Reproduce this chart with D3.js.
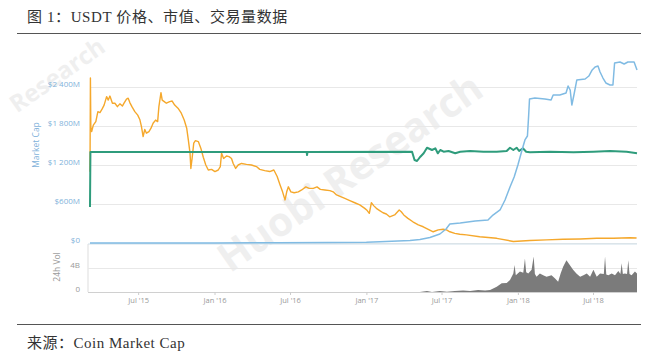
<!DOCTYPE html>
<html><head><meta charset="utf-8">
<script src="https://cdn.jsdelivr.net/npm/d3@7"></script>
<style>
html,body{margin:0;padding:0;background:#fff;}
svg{display:block;}
</style></head>
<body>
<svg id="c" width="650" height="358"></svg>
<script>
// ---- data ----
const titleText = "图 1：USDT 价格、市值、交易量数据";
const sourceText = "来源：Coin Market Cap";
const capTicks = [0, 600, 1200, 1800, 2400];           // Market Cap, $M
const capTickLabels = ["$0", "$600M", "$1 200M", "$1 800M", "$2 400M"];
const volTicks = [0, 4];                                // 24h Vol, $B
const volTickLabels = ["0", "4B"];
const dateTicks = ["2015-07-01","2016-01-01","2016-07-01","2017-01-01","2017-07-01","2018-01-01","2018-07-01"];

// Market cap ($M)
const marketCap = [["2015-03-07",0.3],["2015-09-01",0.5],["2016-01-01",1.5],["2016-06-01",5],["2016-10-01",6],["2017-01-01",10],["2017-02-02",20],["2017-04-16",40],["2017-05-10",54],["2017-06-03",85],["2017-06-27",138],["2017-07-12",215],["2017-07-21",292],["2017-08-15",308],["2017-09-20",338],["2017-10-21",354],["2017-11-02",430],["2017-11-19",508],["2017-12-01",662],["2017-12-13",862],["2017-12-23",1015],["2018-01-01",1200],["2018-01-11",1431],["2018-01-18",1585],["2018-01-24",1646],["2018-01-27",1970],["2018-01-29",2215],["2018-02-11",2230],["2018-03-07",2215],["2018-03-22",2200],["2018-03-27",2277],["2018-04-12",2277],["2018-04-27",2308],["2018-05-02",2415],["2018-05-07",2354],["2018-05-11",2123],["2018-05-16",2277],["2018-05-23",2508],["2018-06-12",2523],["2018-06-21",2569],["2018-06-29",2662],["2018-07-06",2708],["2018-07-13",2723],["2018-07-18",2631],["2018-07-25",2538],["2018-08-01",2462],["2018-08-11",2431],["2018-08-18",2431],["2018-08-22",2769],["2018-09-04",2785],["2018-09-14",2754],["2018-09-23",2785],["2018-10-08",2785],["2018-10-15",2662]];

// Price in USD
const priceUsd = [["2015-03-07",0.396],["2015-03-08",1.0],["2016-08-10",1.0],["2016-08-11",0.967],["2016-08-12",1.0],["2017-04-21",1.003],["2017-04-27",0.912],["2017-05-03",0.901],["2017-05-11",0.948],["2017-05-19",0.986],["2017-05-27",1.047],["2017-06-03",1.033],["2017-06-08",1.022],["2017-06-16",1.041],["2017-06-22",0.986],["2017-06-28",1.022],["2017-07-06",1.003],["2017-07-18",1.011],["2017-08-03",0.986],["2017-08-15",1.003],["2017-09-08",1.011],["2017-10-10",1.003],["2017-11-11",1.003],["2017-12-05",1.011],["2017-12-13",1.047],["2017-12-21",1.022],["2017-12-29",1.047],["2018-01-04",1.011],["2018-01-13",1.041],["2018-01-21",1.003],["2018-01-30",0.997],["2018-03-19",1.003],["2018-05-15",0.997],["2018-07-02",1.003],["2018-08-11",1.011],["2018-09-20",1.003],["2018-10-15",0.986]];

// Price in BTC
const priceBtc = [["2015-03-07",0.00228],["2015-03-08",0.00529],["2015-03-09",0.00372],["2015-03-11",0.00357],["2015-03-15",0.00378],["2015-03-21",0.00389],["2015-03-26",0.00421],["2015-03-31",0.00418],["2015-04-05",0.00429],["2015-04-10",0.00442],["2015-04-16",0.00469],["2015-04-20",0.00458],["2015-04-24",0.00471],["2015-04-30",0.00448],["2015-05-06",0.00448],["2015-05-12",0.00437],["2015-05-18",0.00446],["2015-05-24",0.00439],["2015-05-28",0.00448],["2015-06-03",0.00461],["2015-06-07",0.00464],["2015-06-11",0.00450],["2015-06-16",0.00437],["2015-06-23",0.00421],["2015-06-30",0.00410],["2015-07-05",0.00396],["2015-07-09",0.00373],["2015-07-13",0.00341],["2015-07-17",0.00364],["2015-07-21",0.00352],["2015-07-27",0.00357],["2015-08-01",0.00368],["2015-08-06",0.00384],["2015-08-12",0.00394],["2015-08-17",0.00389],["2015-08-20",0.00437],["2015-08-25",0.00482],["2015-08-28",0.00458],["2015-09-02",0.00453],["2015-09-07",0.00448],["2015-09-15",0.00453],["2015-09-21",0.00455],["2015-09-27",0.00442],["2015-10-05",0.00432],["2015-10-13",0.00416],["2015-10-20",0.00394],["2015-10-26",0.00368],["2015-10-30",0.00330],["2015-11-03",0.00288],["2015-11-05",0.00239],["2015-11-08",0.00271],["2015-11-12",0.00320],["2015-11-16",0.00328],["2015-11-23",0.00325],["2015-11-29",0.00304],["2015-12-05",0.00275],["2015-12-11",0.00250],["2015-12-17",0.00234],["2015-12-25",0.00236],["2016-01-02",0.00229],["2016-01-10",0.00234],["2016-01-15",0.00245],["2016-01-18",0.00288],["2016-01-23",0.00271],["2016-01-30",0.00279],["2016-02-05",0.00277],["2016-02-11",0.00271],["2016-02-15",0.00255],["2016-02-21",0.00239],["2016-02-27",0.00250],["2016-03-06",0.00255],["2016-03-18",0.00252],["2016-03-30",0.00250],["2016-04-11",0.00245],["2016-04-19",0.00236],["2016-05-01",0.00232],["2016-05-13",0.00229],["2016-05-23",0.00234],["2016-05-31",0.00213],["2016-06-07",0.00186],["2016-06-13",0.00164],["2016-06-19",0.00138],["2016-06-23",0.00164],["2016-06-27",0.00180],["2016-07-03",0.00164],["2016-07-11",0.00161],["2016-07-21",0.00164],["2016-07-29",0.00170],["2016-08-08",0.00180],["2016-08-16",0.00175],["2016-08-26",0.00175],["2016-09-04",0.00180],["2016-09-12",0.00172],["2016-09-23",0.00170],["2016-10-05",0.00168],["2016-10-13",0.00164],["2016-10-21",0.00154],["2016-11-10",0.00143],["2016-11-22",0.00136],["2016-12-04",0.00129],["2016-12-16",0.00122],["2016-12-28",0.00111],["2017-01-03",0.00104],["2017-01-08",0.00095],["2017-01-13",0.00129],["2017-01-19",0.00119],["2017-01-25",0.00111],["2017-02-02",0.00104],["2017-02-10",0.00097],["2017-02-18",0.00093],["2017-02-26",0.00084],["2017-03-10",0.00090],["2017-03-21",0.00106],["2017-03-26",0.00100],["2017-04-01",0.00090],["2017-04-11",0.00079],["2017-04-23",0.00068],["2017-05-06",0.00058],["2017-05-18",0.00052],["2017-05-30",0.00044],["2017-06-11",0.00036],["2017-06-23",0.00042],["2017-07-05",0.00044],["2017-07-13",0.00042],["2017-07-21",0.00036],["2017-08-02",0.00031],["2017-08-14",0.00028],["2017-08-30",0.00026],["2017-10-01",0.00020],["2017-11-11",0.00015],["2017-12-21",0.00005],["2018-01-30",0.00008],["2018-03-11",0.00010],["2018-04-20",0.00012],["2018-05-31",0.00013],["2018-07-10",0.00015],["2018-08-19",0.00015],["2018-09-28",0.00017],["2018-10-14",0.00016]];

// 24h volume ($B)
const volume24h = [["2015-03-07",0],["2017-05-10",0],["2017-05-27",0.17],["2017-06-08",0],["2017-06-27",0.17],["2017-07-14",0.05],["2017-08-02",0.17],["2017-08-22",0.25],["2017-09-08",0.17],["2017-09-27",0.33],["2017-10-14",0.25],["2017-10-26",0.33],["2017-11-11",0.88],["2017-11-23",1.45],["2017-12-05",1.5],["2017-12-13",2.0],["2017-12-21",3.1],["2017-12-24",4.5],["2017-12-27",2.8],["2018-01-06",3.4],["2018-01-14",3.2],["2018-01-18",5.6],["2018-01-21",3.3],["2018-01-26",3.1],["2018-02-03",3.7],["2018-02-08",5.9],["2018-02-11",3.0],["2018-02-15",2.55],["2018-02-23",3.1],["2018-03-03",2.8],["2018-03-11",2.55],["2018-03-23",2.8],["2018-03-31",2.3],["2018-04-08",1.7],["2018-04-14",3.1],["2018-04-20",4.2],["2018-04-28",5.3],["2018-05-06",4.5],["2018-05-14",3.7],["2018-05-22",3.1],["2018-05-31",2.55],["2018-06-08",2.8],["2018-06-16",3.1],["2018-06-24",2.55],["2018-07-02",3.7],["2018-07-10",2.55],["2018-07-18",3.1],["2018-07-27",3.0],["2018-07-30",5.9],["2018-08-02",2.9],["2018-08-07",2.8],["2018-08-15",3.1],["2018-08-23",2.8],["2018-08-31",3.5],["2018-09-05",3.0],["2018-09-08",4.8],["2018-09-11",3.0],["2018-09-16",3.1],["2018-09-21",3.0],["2018-09-24",5.3],["2018-09-27",3.0],["2018-10-02",2.8],["2018-10-10",3.4],["2018-10-15",3.1]];

// ---- drawing ----
const parse = d3.timeParse("%Y-%m-%d");
const svg = d3.select("#c");
const L = 90, R = 637, mainTop = 87, mainBot = 243, volTop = 244, volBot = 292;

const x = d3.scaleTime().domain([parse("2015-03-07"), parse("2018-10-15")]).range([L, R]);
const yCap = d3.scaleLinear().domain([0, 2400]).range([mainBot, mainTop]);
const yBtc = d3.scaleLinear().domain([0, 0.005]).range([mainBot, mainTop]);
const yUsd = d3.scaleLinear().domain([0, 1]).range([mainBot, 152]);
const yVol = d3.scaleLinear().domain([0, 4]).range([volBot, 268]);

const serif = "'Liberation Serif','Noto Sans CJK SC',serif";
const sans = "'Open Sans','Noto Sans',sans-serif";

// watermark
const wm = svg.append("g").attr("fill", "#efefef").style("font-family", sans).style("font-weight", "bold");
wm.append("text").attr("transform", "translate(358,184) rotate(-35)").attr("text-anchor", "middle")
  .style("font-size", "40px").text("Huobi Research");
wm.append("text").attr("transform", "translate(62,82) rotate(-35)").attr("text-anchor", "middle")
  .style("font-size", "24px").text("Research");

// title and rules
svg.append("text").attr("x", 27).attr("y", 22).style("font-family", serif).style("font-size", "15px")
  .style("letter-spacing", "0.6px").attr("fill", "#333").text(titleText);
svg.append("line").attr("x1", 17).attr("x2", 641).attr("y1", 33.5).attr("y2", 33.5).attr("stroke", "#555").attr("stroke-width", 1.2);
svg.append("line").attr("x1", 17).attr("x2", 641).attr("y1", 324.5).attr("y2", 324.5).attr("stroke", "#555").attr("stroke-width", 1.2);
svg.append("text").attr("x", 27).attr("y", 348).style("font-family", serif).style("font-size", "15px")
  .style("letter-spacing", "0.5px").attr("fill", "#333").text(sourceText);

// main gridlines + labels
const capAxis = d3.axisLeft(yCap).tickValues(capTicks).tickSize(-(R - L))
  .tickFormat((d, i) => capTickLabels[i]);
const gCap = svg.append("g").attr("transform", `translate(${L},0)`).call(capAxis);
gCap.select(".domain").remove();
gCap.selectAll("line").attr("stroke", "#e8e8e8");
gCap.selectAll("text").attr("x", -10).attr("dy", "-0.05em").attr("fill", "#7fb2da")
  .style("font-family", sans).style("font-size", "8px");
svg.append("text").attr("transform", "translate(39,145) rotate(-90)").attr("text-anchor", "middle")
  .style("font-family", sans).style("font-size", "8.5px").attr("fill", "#7fb2da").text("Market Cap");

// volume panel
svg.append("line").attr("x1", 88).attr("x2", R).attr("y1", volTop).attr("y2", volTop).attr("stroke", "#cfe0ea");
svg.append("line").attr("x1", 88).attr("x2", 88).attr("y1", volTop).attr("y2", volBot).attr("stroke", "#ddd");
const volAxis = d3.axisLeft(yVol).tickValues(volTicks).tickSize(-(R - 88)).tickFormat((d, i) => volTickLabels[i]);
const gVol = svg.append("g").attr("transform", `translate(88,0)`).call(volAxis);
gVol.select(".domain").remove();
gVol.selectAll("line").attr("stroke", d => d === 0 ? "#d0d0d0" : "#e8e8e8");
gVol.selectAll("text").attr("x", -8).attr("dy", "-0.1em").attr("fill", "#999")
  .style("font-family", sans).style("font-size", "8px");
svg.append("text").attr("transform", "translate(60,267) rotate(-90)").attr("text-anchor", "middle")
  .style("font-family", sans).style("font-size", "8.5px").attr("fill", "#999").text("24h Vol");

// x axis
const xAxis = d3.axisBottom(x).tickValues(dateTicks.map(parse)).tickSize(3).tickPadding(3)
  .tickFormat(d3.timeFormat("%b '%y"));
const gX = svg.append("g").attr("transform", `translate(0,${volBot})`).call(xAxis);
gX.select(".domain").remove();
gX.selectAll("line").attr("stroke", "#ccc");
gX.selectAll("text").attr("fill", "#999").style("font-family", sans).style("font-size", "7.5px");

// volume area
const volArea = d3.area().x(d => x(parse(d[0]))).y0(volBot).y1(d => yVol(d[1]));
svg.append("path").datum(volume24h).attr("d", volArea).attr("fill", "#7b7b7b");

// series lines
const mk = (ys) => d3.line().x(d => x(parse(d[0]))).y(d => ys(d[1]));
svg.append("path").datum(priceBtc).attr("d", mk(yBtc)).attr("fill", "none")
  .attr("stroke", "#f5a82c").attr("stroke-width", 1.4).attr("stroke-linejoin", "round");
svg.append("path").datum(priceUsd).attr("d", mk(yUsd)).attr("fill", "none")
  .attr("stroke", "#2f9c7c").attr("stroke-width", 2).attr("stroke-linejoin", "round");
svg.append("path").datum(marketCap).attr("d", mk(yCap)).attr("fill", "none")
  .attr("stroke", "#80bbe3").attr("stroke-width", 1.5).attr("stroke-linejoin", "round");
</script>
</body></html>
